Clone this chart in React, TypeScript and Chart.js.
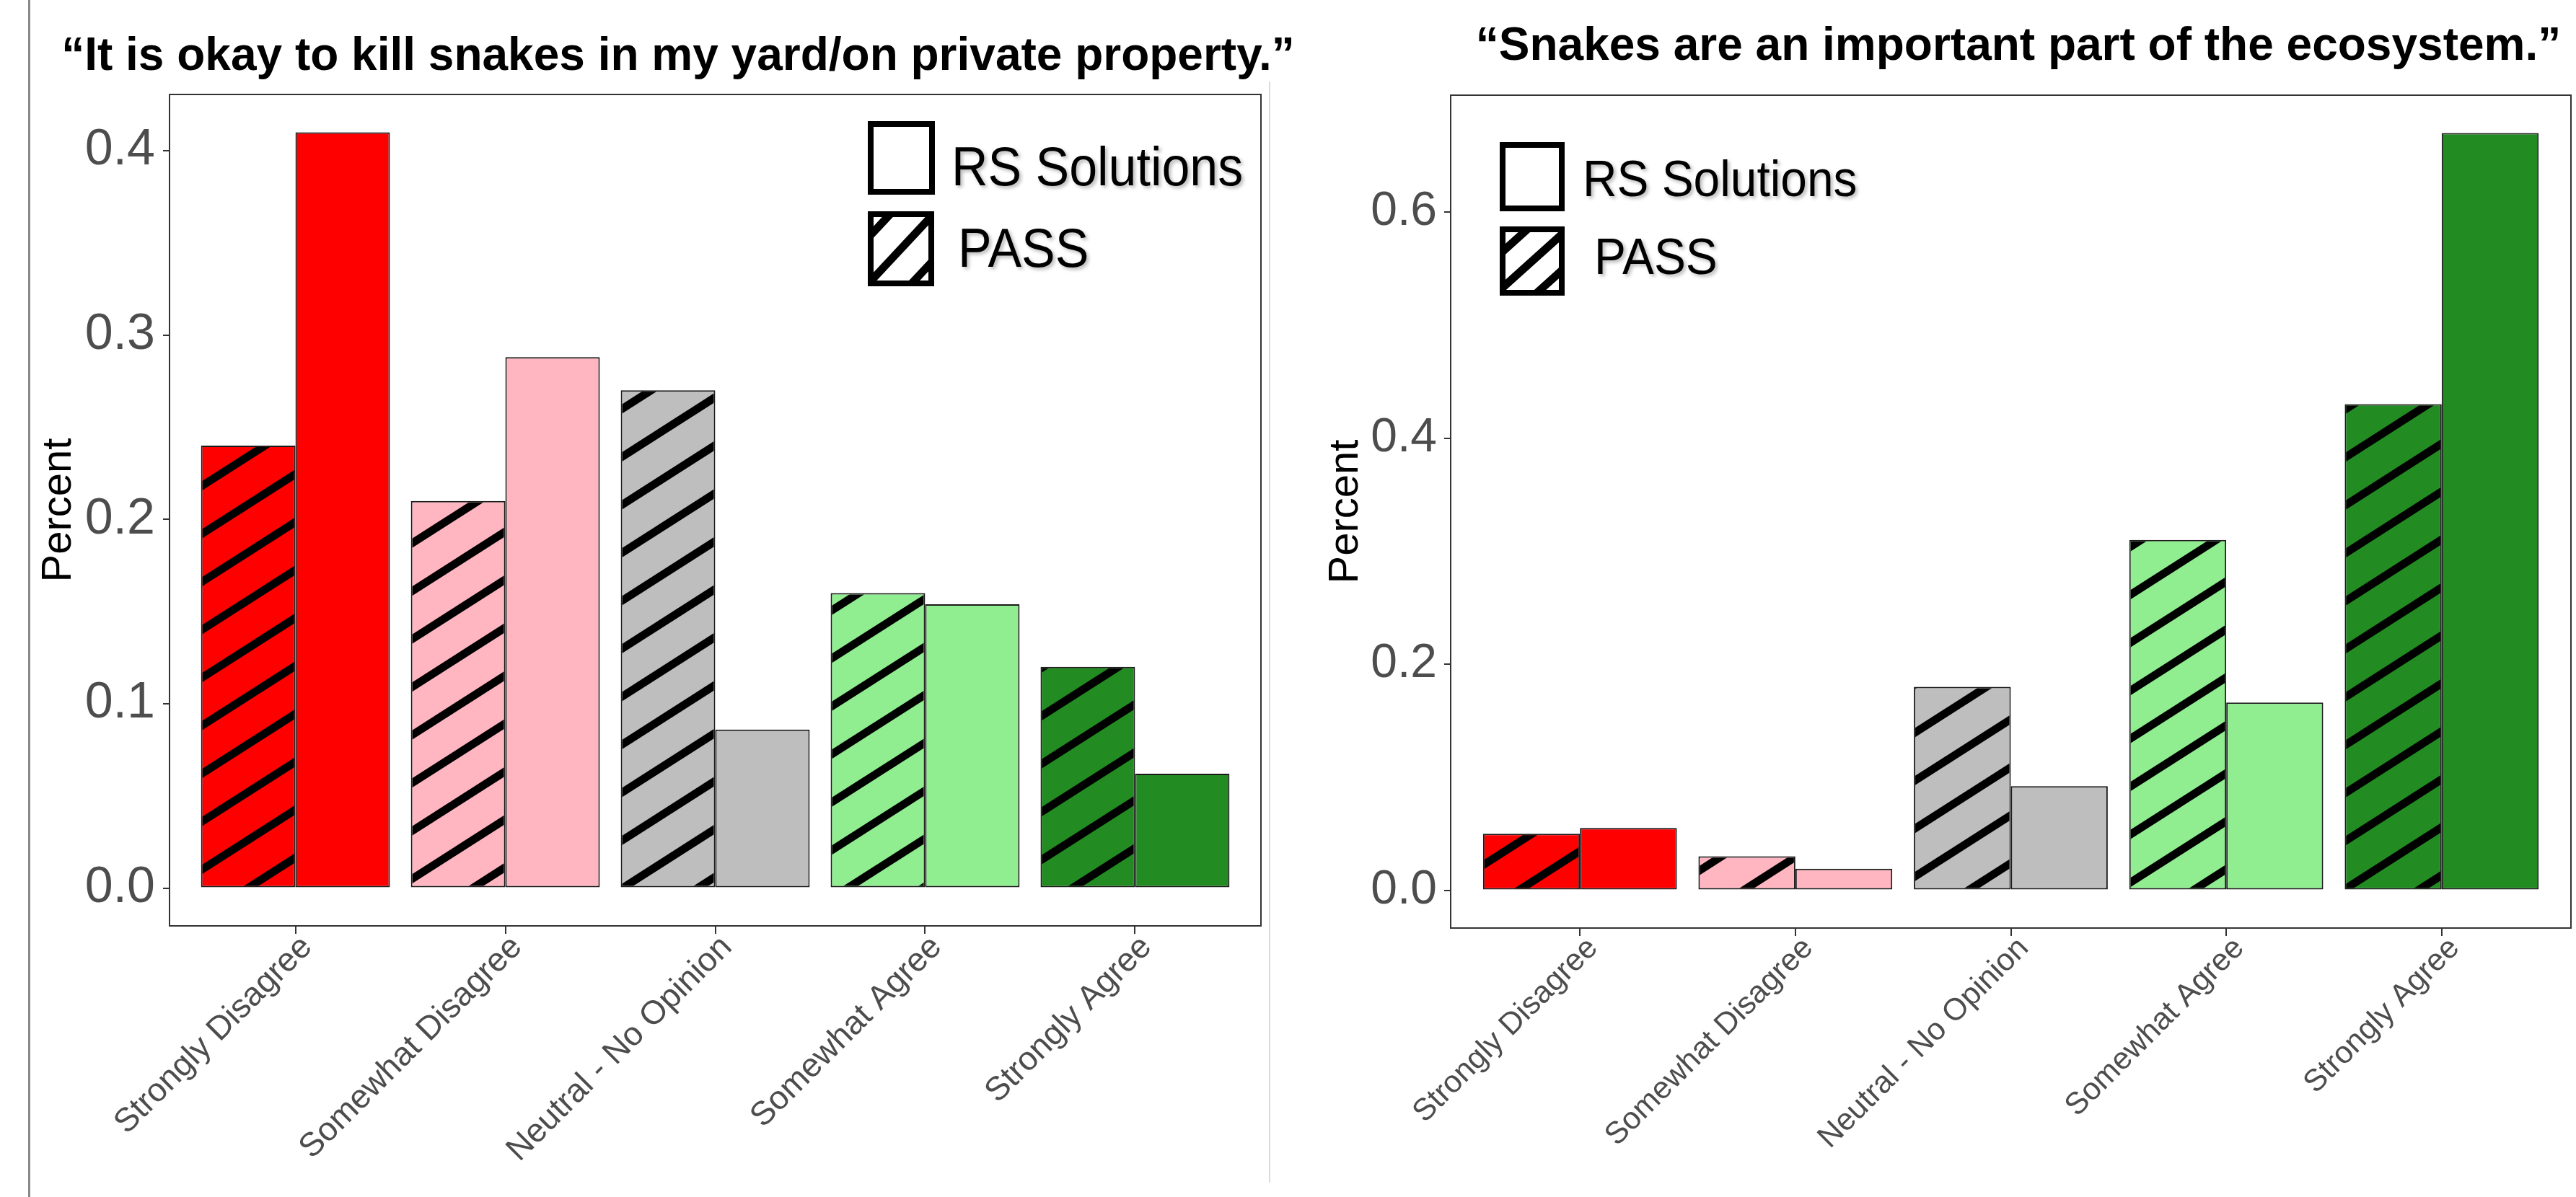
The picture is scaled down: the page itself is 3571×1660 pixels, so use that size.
import React, { useEffect, useRef } from 'react';
import { Chart, registerables } from 'chart.js';

Chart.register(...registerables);

// ---------- data ----------
const categories = ['Strongly Disagree', 'Somewhat Disagree', 'Neutral - No Opinion', 'Somewhat Agree', 'Strongly Agree'];
const categoryColors = ['#FF0000', '#FFB6C1', '#BEBEBE', '#90EE90', '#228B22'];
const seriesNames = ['PASS', 'RS Solutions'];

const killTitle = '\u201CIt is okay to kill snakes in my yard/on private property.\u201D';
const killPass = [0.24, 0.21, 0.27, 0.16, 0.12];
const killRS = [0.41, 0.288, 0.086, 0.154, 0.062];
const killTicks = [0, 0.1, 0.2, 0.3, 0.4];

const ecoTitle = '\u201CSnakes are an important part of the ecosystem.\u201D';
const ecoPass = [0.05, 0.03, 0.18, 0.31, 0.43];
const ecoRS = [0.055, 0.019, 0.092, 0.166, 0.67];
const ecoTicks = [0, 0.2, 0.4, 0.6];

const yTitle = 'Percent';

const FONT = "'Liberation Sans', Arial, Helvetica, sans-serif";
const PAGE_W = 3571;
const PAGE_H = 1660;

// ---------- plugins ----------
const hatchPlugin = {
  id: 'hatch',
  afterDatasetsDraw(chart: any, _args: any, opts: any) {
    const meta = chart.getDatasetMeta(0);
    const ctx = chart.ctx;
    const s = opts.slope, d = opts.spacing, off = opts.pageOffset, c0 = opts.phase;
    const bw = 2;
    ctx.save();
    meta.data.forEach((el: any) => {
      const p = el.getProps(['x', 'y', 'base', 'width'], true);
      const L = p.x - p.width / 2 + bw;
      const R = p.x + p.width / 2 - bw;
      const T = Math.min(p.y, p.base) + bw;
      const B = Math.max(p.y, p.base) - bw;
      if (R <= L || B <= T) return;
      ctx.save();
      ctx.beginPath();
      ctx.rect(L, T, R - L, B - T);
      ctx.clip();
      ctx.strokeStyle = '#000';
      ctx.lineWidth = opts.lineWidth;
      const cMin = T + s * (L + off);
      const cMax = B + s * (R + off);
      let c = Math.floor((cMin - c0) / d) * d + c0 - d;
      for (; c <= cMax + d; c += d) {
        ctx.beginPath();
        ctx.moveTo(L - 30, c - s * (L - 30 + off));
        ctx.lineTo(R + 30, c - s * (R + 30 + off));
        ctx.stroke();
      }
      ctx.restore();
    });
    ctx.restore();
  },
};

const framePlugin = {
  id: 'frame',
  afterDraw(chart: any) {
    const { ctx, chartArea: a } = chart;
    ctx.save();
    ctx.strokeStyle = '#333';
    ctx.lineWidth = 2;
    ctx.strokeRect(a.left, a.top, a.right - a.left, a.bottom - a.top);
    ctx.restore();
  },
};

const boxLegendPlugin = {
  id: 'boxLegend',
  afterDraw(chart: any, _args: any, opts: any) {
    const { ctx, chartArea: a } = chart;
    ctx.save();
    opts.items.forEach((it: any) => {
      const x = a.left + it.boxX;
      const y = a.top + it.boxY;
      const w = it.boxW;
      const h = it.boxH;
      const lw = 8;
      ctx.fillStyle = '#fff';
      ctx.fillRect(x, y, w, h);
      if (it.hatched) {
        ctx.save();
        ctx.beginPath();
        ctx.rect(x, y, w, h);
        ctx.clip();
        ctx.strokeStyle = '#000';
        ctx.lineWidth = 11;
        const s = opts.hatchSlope;
        const cMid = h / 2 + s * (w / 2);
        [-1, 0, 1].forEach((k) => {
          const c = cMid + k * opts.hatchSpacing;
          ctx.beginPath();
          ctx.moveTo(x - 20, y + c + s * 20);
          ctx.lineTo(x + w + 20, y + c - s * (w + 20));
          ctx.stroke();
        });
        ctx.restore();
      }
      ctx.strokeStyle = '#000';
      ctx.lineWidth = lw;
      ctx.strokeRect(x + lw / 2, y + lw / 2, w - lw, h - lw);

      ctx.save();
      ctx.translate(a.left + it.textX, a.top + it.textY);
      ctx.scale(opts.textScaleX, 1);
      ctx.font = `${opts.fontSize}px ${FONT}`;
      ctx.textAlign = 'left';
      ctx.textBaseline = 'alphabetic';
      ctx.shadowColor = 'rgba(0,0,0,0.28)';
      ctx.shadowBlur = 5;
      ctx.shadowOffsetX = 3;
      ctx.shadowOffsetY = 3;
      ctx.fillStyle = '#000';
      ctx.fillText(it.label, 0, 0);
      ctx.restore();
    });
    ctx.restore();
  },
};

// ---------- panel specs (layout only) ----------
type PanelSpec = {
  pass: number[];
  rs: number[];
  ticks: number[];
  pageLeft: number;
  width: number;
  area: { left: number; top: number; right: number; bottom: number };
  yTickFont: number;
  yTickPad: number;
  yTitlePad: number;
  xTickFont: number;
  xLabelOffset: number;
  legend: any;
};

const leftSpec: PanelSpec = {
  pass: killPass,
  rs: killRS,
  ticks: killTicks,
  pageLeft: 0,
  width: 1765,
  area: { left: 235, top: 131, right: 1748, bottom: 1284 },
  yTickFont: 70,
  yTickPad: 11,
  yTitlePad: 47,
  xTickFont: 46,
  xLabelOffset: 16,
  legend: {
    fontSize: 76,
    textScaleX: 0.92,
    hatchSlope: 1.07,
    hatchSpacing: 64,
    items: [
      { label: seriesNames[1], hatched: false, boxX: 968, boxY: 37, boxW: 93, boxH: 102, textX: 1084, textY: 126 },
      { label: seriesNames[0], hatched: true, boxX: 968, boxY: 162, boxW: 92, boxH: 104, textX: 1093, textY: 239 },
    ],
  },
};

const rightSpec: PanelSpec = {
  pass: ecoPass,
  rs: ecoRS,
  ticks: ecoTicks,
  pageLeft: 1765,
  width: PAGE_W - 1765,
  area: { left: 246, top: 132, right: 1799, bottom: 1287 },
  yTickFont: 66,
  yTickPad: 10,
  yTitlePad: 66,
  xTickFont: 43,
  xLabelOffset: 18,
  legend: {
    fontSize: 70,
    textScaleX: 0.94,
    hatchSlope: 0.9,
    hatchSpacing: 50,
    items: [
      { label: seriesNames[1], hatched: false, boxX: 68, boxY: 65, boxW: 90, boxH: 96, textX: 183, textY: 140 },
      { label: seriesNames[0], hatched: true, boxX: 68, boxY: 182, boxW: 90, boxH: 96, textX: 199, textY: 248 },
    ],
  },
};

function buildConfig(spec: PanelSpec): any {
  const yMax = Math.max(...spec.pass, ...spec.rs);
  const common = {
    backgroundColor: categoryColors,
    borderColor: '#1a1a1a',
    borderWidth: 2,
    borderSkipped: false,
    categoryPercentage: 0.9,
    barPercentage: 1.0,
  };
  return {
    type: 'bar',
    data: {
      datasets: [
        { label: seriesNames[0], data: spec.pass.map((v, i) => ({ x: i + 1, y: v })), ...common },
        { label: seriesNames[1], data: spec.rs.map((v, i) => ({ x: i + 1, y: v })), ...common },
      ],
    },
    options: {
      responsive: false,
      maintainAspectRatio: false,
      animation: false,
      events: [],
      layout: {
        padding: { top: spec.area.top, right: spec.width - spec.area.right, left: 0, bottom: 0 },
      },
      scales: {
        x: {
          type: 'linear',
          min: 0.4,
          max: categories.length + 0.6,
          offset: false,
          afterBuildTicks: (s: any) => {
            s.ticks = categories.map((_, i) => ({ value: i + 1 }));
          },
          afterFit: (s: any) => {
            s.height = PAGE_H - spec.area.bottom;
          },
          ticks: {
            autoSkip: false,
            minRotation: 45,
            maxRotation: 45,
            padding: -8,
            labelOffset: spec.xLabelOffset,
            color: '#4D4D4D',
            font: { family: FONT, size: spec.xTickFont },
            callback: (v: any) => categories[Math.round(v) - 1] ?? '',
          },
          grid: {
            display: true,
            offset: false,
            drawOnChartArea: false,
            drawTicks: true,
            tickLength: 11,
            color: '#333',
            lineWidth: 2,
          },
          border: { display: false },
        },
        y: {
          type: 'linear',
          min: -0.05 * yMax,
          max: 1.05 * yMax,
          afterBuildTicks: (s: any) => {
            s.ticks = spec.ticks.map((v) => ({ value: v }));
          },
          afterFit: (s: any) => {
            s.width = spec.area.left;
          },
          ticks: {
            padding: spec.yTickPad,
            color: '#4D4D4D',
            font: { family: FONT, size: spec.yTickFont },
            callback: (v: any) => Number(v).toFixed(1),
          },
          grid: { display: true, drawOnChartArea: false, drawTicks: true, tickLength: 9, color: '#333', lineWidth: 2 },
          border: { display: false },
          title: {
            display: true,
            text: yTitle,
            color: '#000',
            font: { family: FONT, size: 58 },
            padding: { top: spec.yTitlePad, bottom: 0 },
          },
        },
      },
      plugins: {
        legend: { display: false },
        tooltip: { enabled: false },
        title: { display: false },
        hatch: { slope: 0.64, spacing: 66.5, lineWidth: 11, phase: 55, pageOffset: spec.pageLeft },
        boxLegend: spec.legend,
      },
    },
    plugins: [hatchPlugin, framePlugin, boxLegendPlugin],
  };
}

function Panel({ spec }: { spec: PanelSpec }) {
  const ref = useRef<HTMLCanvasElement>(null);
  useEffect(() => {
    if (!ref.current) return;
    const chart = new Chart(ref.current, buildConfig(spec));
    return () => chart.destroy();
  }, [spec]);
  return (
    <canvas
      ref={ref}
      width={spec.width}
      height={PAGE_H}
      style={{ position: 'absolute', left: spec.pageLeft, top: 0, width: spec.width, height: PAGE_H }}
    />
  );
}

const titleStyle: React.CSSProperties = {
  position: 'absolute',
  fontFamily: FONT,
  fontWeight: 'bold',
  fontSize: 64,
  lineHeight: '64px',
  whiteSpace: 'nowrap',
  color: '#000',
  transform: 'translateX(-50%)',
};

export default function App() {
  return (
    <div
      style={{
        position: 'fixed',
        left: 0,
        top: 0,
        width: PAGE_W,
        height: PAGE_H,
        background: '#fff',
        overflow: 'hidden',
      }}
    >
      <div style={{ position: 'absolute', left: 39, top: 0, width: 3, height: PAGE_H, background: '#8a8a8a' }} />
      <div style={{ position: 'absolute', left: 1759, top: 113, width: 2, height: 1527, background: '#dadada' }} />
      <div style={{ ...titleStyle, left: 940, top: 43 }}>{killTitle}</div>
      <div style={{ ...titleStyle, left: 2798, top: 29 }}>{ecoTitle}</div>
      <Panel spec={leftSpec} />
      <Panel spec={rightSpec} />
    </div>
  );
}
